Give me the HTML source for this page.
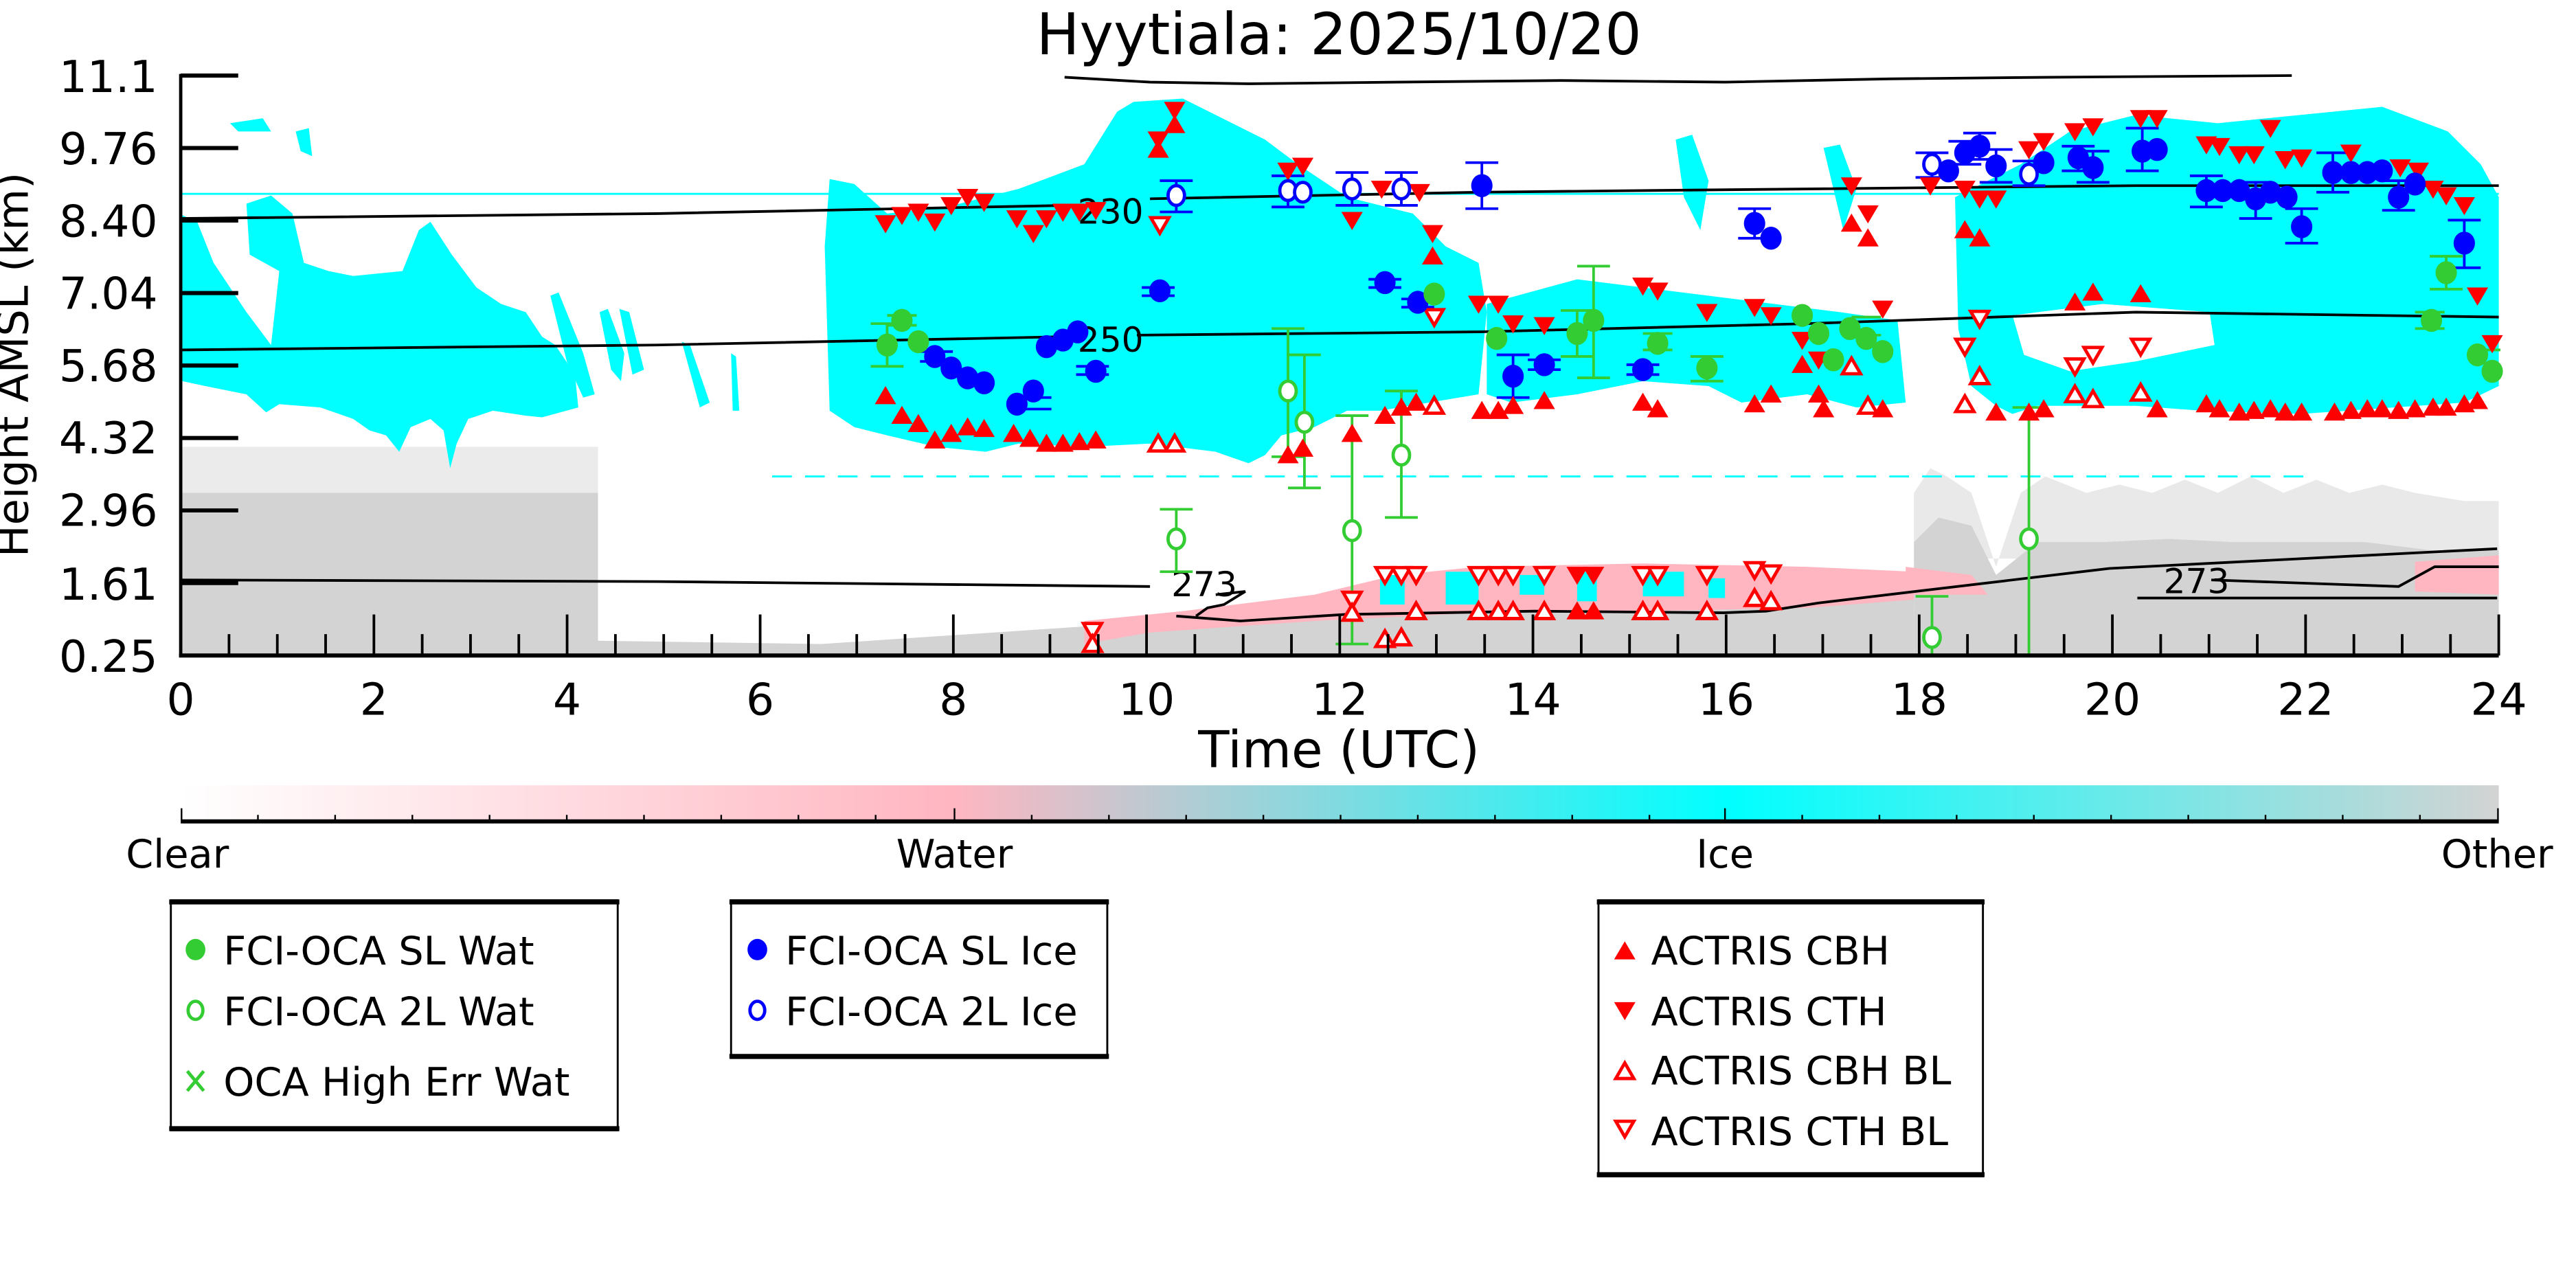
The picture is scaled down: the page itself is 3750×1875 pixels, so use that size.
<!DOCTYPE html>
<html><head><meta charset="utf-8"><style>
html,body{margin:0;padding:0;background:#fff;}
svg{display:block;}
text{font-family:"DejaVu Sans","Liberation Sans",sans-serif;fill:#000;}
</style></head><body>
<svg width="3750" height="1875" viewBox="0 0 1568 784" preserveAspectRatio="none" xmlns="http://www.w3.org/2000/svg">
<defs>
<path id="tu" d="M0,-6 L6.5,5 L-6.5,5Z" fill="#ff0000"/>
<path id="td" d="M0,6 L6.5,-5 L-6.5,-5Z" fill="#ff0000"/>
<path id="tuo" d="M0,-5 L5.5,4.5 L-5.5,4.5Z" fill="#fff" stroke="#ff0000" stroke-width="2"/>
<path id="tdo" d="M0,5 L5.5,-4.5 L-5.5,-4.5Z" fill="#fff" stroke="#ff0000" stroke-width="2"/>
<ellipse id="bf" rx="6.5" ry="7" fill="#0000ff"/>
<ellipse id="bo" rx="5" ry="6" fill="#fff" stroke="#0000ff" stroke-width="2"/>
<ellipse id="gf" rx="6.5" ry="7" fill="#33cc33"/>
<ellipse id="go" rx="5" ry="6" fill="#fff" stroke="#33cc33" stroke-width="2"/>
<linearGradient id="cb" x1="0" x2="1" y1="0" y2="0">
<stop offset="0" stop-color="#ffffff"/><stop offset="0.333" stop-color="#ffb6c1"/><stop offset="0.667" stop-color="#00ffff"/><stop offset="1" stop-color="#d3d3d3"/>
</linearGradient>
</defs>

<!-- gray regions -->
<rect x="110" y="300" width="254" height="99" fill="#d3d3d3"/>
<rect x="110" y="272" width="254" height="28" fill="#d3d3d3" opacity="0.45"/>
<polygon points="364,390 500,392 560,388 620,384 680,380 760,376 840,372 950,368 1060,364 1165,358 1165,399 364,399" fill="#d3d3d3"/>
<polygon points="1165,300 1175,285 1185,290 1200,300 1215,345 1230,300 1245,290 1270,300 1290,295 1310,300 1330,292 1350,300 1370,290 1390,300 1410,292 1430,300 1450,295 1470,300 1500,305 1521,305 1521,340 1165,340" fill="#d3d3d3" opacity="0.5"/>
<polygon points="1165,330 1180,315 1200,320 1215,350 1240,330 1280,330 1320,328 1360,330 1400,330 1440,330 1480,335 1521,335 1521,399 1165,399" fill="#d3d3d3"/>
<!-- pink -->
<polygon points="660,378 720,372 800,362 850,350 900,345 1000,343 1100,345 1165,348 1165,365 1100,370 1000,372 900,373 800,378 700,385 660,392" fill="#ffb6c1"/>
<polygon points="1160,345 1200,350 1210,362 1160,362" fill="#ffb6c1"/>
<polygon points="1470,342 1521,338 1521,362 1470,360" fill="#ffb6c1"/>
<g fill="#00ffff">
<rect x="840" y="350" width="15" height="18"/><rect x="880" y="348" width="20" height="20"/><rect x="925" y="350" width="15" height="12"/><rect x="960" y="348" width="12" height="18"/><rect x="1000" y="348" width="25" height="15"/><rect x="1040" y="352" width="10" height="12"/>
</g>

<!-- cyan clouds -->
<g fill="#00ffff">
<polygon points="111,131 120,135 130,160 150,190 165,210 170,165 152,155 150,124 165,119 178,130 185,160 200,165 215,168 245,165 255,140 262,135 275,155 290,175 305,185 320,190 330,205 338,210 350,228 352,248 330,254 320,253 300,250 285,255 278,270 274,285 270,262 262,255 250,260 243,275 235,265 225,262 215,255 195,248 170,246 162,251 150,240 140,238 125,235 111,232"/>
<polygon points="335,180 340,178 355,215 362,240 355,242 345,220"/>
<polygon points="365,190 370,188 380,215 378,232 372,225"/>
<polygon points="377,188 383,190 392,225 385,228"/>
<polygon points="415,208 420,210 432,245 426,248"/>
<polygon points="445,215 448,217 450,250 446,250"/>
<polygon points="140,75 160,72 165,80 145,80"/><polygon points="180,80 188,78 190,95 183,92"/>
<polygon points="502,150 505,109 520,112 540,130 580,125 620,115 660,100 680,68 690,62 720,60 740,70 770,85 790,100 820,120 860,130 880,150 900,160 905,190 900,240 870,245 840,250 820,250 800,260 780,265 770,277 760,282 740,275 700,270 660,272 620,270 600,275 570,272 540,265 520,260 505,250"/>
<polygon points="905,185 960,170 1000,175 1040,180 1080,185 1120,190 1155,195 1160,245 1130,248 1100,240 1060,245 1040,235 1000,232 960,240 920,245 905,240"/>
<polygon points="1020,85 1030,82 1040,110 1035,140 1025,120"/><polygon points="1110,90 1120,88 1130,115 1122,140"/>
<polygon points="1190,120 1210,110 1230,100 1260,80 1300,70 1350,75 1400,70 1450,65 1490,80 1510,100 1521,120 1521,235 1500,245 1400,252 1340,250 1300,247 1240,247 1225,252 1215,247 1200,235 1192,200"/>
</g>
<polygon points="1225,192 1280,185 1345,190 1348,210 1300,220 1260,226 1232,216" fill="#fff"/>
<line x1="110" y1="118" x2="1521" y2="118" stroke="#00ffff" stroke-width="1.2"/>
<line x1="470" y1="290" x2="1410" y2="290" stroke="#00ffff" stroke-width="1.2" stroke-dasharray="12,8"/>

<!-- temperature contours -->
<g fill="none" stroke="#000" stroke-width="1.6">
<polyline points="648,47 700,50 760,51 850,50 950,49 1050,50 1150,48 1250,47 1395,46"/>
<polyline points="110,133 400,130 650,125"/>
<polyline points="700,121 900,117 1100,115 1300,113 1521,113"/>
<polyline points="110,213 400,210 645,205"/>
<polyline points="692,204 900,202 1100,197 1300,190 1521,193"/>
<polyline points="110,353 400,354 700,357"/>
<polyline points="716,375 755,378 819,374 934,372 1049,373 1075,372 1107,367 1284,346 1520,334"/>
<polyline points="1346,353 1460,357 1482,345 1521,345"/>
<polyline points="1301,364 1520,364"/>
<polyline points="740,362 758,360 745,368 735,370 728,375"/>
</g>
<text x="676" y="136" font-size="21" text-anchor="middle">230</text>
<text x="676" y="214" font-size="21" text-anchor="middle">250</text>
<text x="733" y="363" font-size="21" text-anchor="middle">273</text>
<text x="1337" y="361" font-size="21" text-anchor="middle">273</text>

<!-- error bars -->
<g fill="none" stroke-width="1.6">
<g stroke="#0000ff">
<path d="M716,110V129M706,110h20M706,129h20"/>
<path d="M902,99V127M892,99h20M892,127h20"/>
<path d="M921,216V242M911,216h20M911,242h20"/>
<path d="M1068,127V145M1058,127h20M1058,145h20"/>
<path d="M1176,93V108M1166,93h20M1166,108h20"/>
<path d="M1196,86V100M1186,86h20M1186,100h20"/>
<path d="M1205,81V97M1195,81h20M1195,97h20"/>
<path d="M1215,91V111M1205,91h20M1205,111h20"/>
<path d="M1235,98V113M1225,98h20M1225,113h20"/>
<path d="M1265,89V104M1255,89h20M1255,104h20"/>
<path d="M1274,92V111M1264,92h20M1264,111h20"/>
<path d="M1304,78V104M1294,78h20M1294,104h20"/>
<path d="M1343,107V126M1333,107h20M1333,126h20"/>
<path d="M1373,111V133M1363,111h20M1363,133h20"/>
<path d="M1401,127V148M1391,127h20M1391,148h20"/>
<path d="M1420,93V117M1410,93h20M1410,117h20"/>
<path d="M1460,110V128M1450,110h20M1450,128h20"/>
<path d="M1500,134V163M1490,134h20M1490,163h20"/>
<path d="M784,107V126M774,107h20M774,126h20"/>
<path d="M823,105V125M813,105h20M813,125h20"/>
<path d="M853,105V125M843,105h20M843,125h20"/>
<path d="M560,214h20M560,220h20M620,242h20M620,249h20M695,175h20M695,180h20M655,223h20M655,228h20M833,170h20M833,175h20M853,182h20M853,187h20M930,219h20M930,225h20M990,222h20M990,228h20"/>
</g>
<g stroke="#33cc33">
<path d="M540,197V223M530,197h20M530,223h20"/>
<path d="M960,189V217M950,189h20M950,217h20"/>
<path d="M970,162V230M960,162h20M960,230h20"/>
<path d="M1039,217V232M1029,217h20M1029,232h20"/>
<path d="M1489,156V176M1479,156h20M1479,176h20"/>
<path d="M716,310V348M706,310h20M706,348h20"/>
<path d="M784,200V278M774,200h20M774,278h20"/>
<path d="M794,216V297M784,216h20M784,297h20"/>
<path d="M823,253V392M813,253h20M813,392h20"/>
<path d="M853,238V315M843,238h20M843,315h20"/>
<path d="M1235,248V399M1225,248h20"/>
<path d="M1176,363V399M1166,363h20"/>
<path d="M540,192h18M540,198h18M1000,203h18M1000,213h18M1127,193h18M1127,204h18M1470,190h18M1470,200h18M1508,213h14"/>
</g>
</g>

<!-- markers -->
<g>
<use href="#td" x="539" y="136"/><use href="#td" x="549" y="131"/><use href="#td" x="559" y="129"/><use href="#td" x="569" y="135"/><use href="#td" x="579" y="125"/><use href="#td" x="589" y="120"/><use href="#td" x="599" y="123"/><use href="#td" x="619" y="133"/><use href="#td" x="629" y="142"/><use href="#td" x="637" y="133"/><use href="#td" x="647" y="129"/><use href="#td" x="657" y="129"/><use href="#td" x="667" y="128"/>
<use href="#tu" x="539" y="241"/><use href="#tu" x="549" y="253"/><use href="#tu" x="559" y="258"/><use href="#tu" x="569" y="268"/><use href="#tu" x="579" y="264"/><use href="#tu" x="589" y="260"/><use href="#tu" x="599" y="261"/><use href="#tu" x="617" y="264"/><use href="#tu" x="627" y="267"/><use href="#tu" x="637" y="270"/><use href="#tu" x="647" y="270"/><use href="#tu" x="657" y="269"/><use href="#tu" x="667" y="268"/>
<use href="#td" x="715" y="67"/><use href="#tu" x="715" y="76"/><use href="#td" x="705" y="85"/><use href="#tu" x="705" y="91"/>
<use href="#tdo" x="706" y="137"/><use href="#tuo" x="705" y="270"/><use href="#tuo" x="715" y="270"/>
<use href="#td" x="784" y="104"/><use href="#td" x="793" y="101"/><use href="#td" x="823" y="134"/><use href="#td" x="841" y="115"/><use href="#td" x="864" y="117"/>
<use href="#td" x="872" y="142"/><use href="#tu" x="872" y="156"/><use href="#tdo" x="873" y="193"/>
<use href="#td" x="900" y="185"/><use href="#td" x="912" y="185"/><use href="#td" x="921" y="197"/><use href="#td" x="940" y="198"/>
<use href="#td" x="1000" y="174"/><use href="#td" x="1009" y="177"/><use href="#td" x="1039" y="190"/><use href="#td" x="1068" y="187"/><use href="#td" x="1078" y="192"/><use href="#td" x="1097" y="207"/><use href="#td" x="1107" y="219"/>
<use href="#tu" x="1097" y="222"/><use href="#tu" x="1107" y="240"/>
<use href="#tu" x="902" y="250"/><use href="#tu" x="912" y="250"/><use href="#tu" x="921" y="247"/><use href="#tu" x="940" y="244"/><use href="#tu" x="1000" y="245"/><use href="#tu" x="1009" y="249"/><use href="#tu" x="1068" y="246"/><use href="#tu" x="1078" y="240"/>
<use href="#tu" x="784" y="277"/><use href="#tu" x="793" y="273"/><use href="#tu" x="823" y="264"/><use href="#tu" x="843" y="253"/><use href="#tu" x="853" y="248"/><use href="#tu" x="862" y="245"/><use href="#tuo" x="873" y="247"/>
<use href="#tdo" x="665" y="384"/><use href="#tuo" x="665" y="392"/>
<use href="#tdo" x="823" y="365"/><use href="#tuo" x="823" y="373"/><use href="#tuo" x="843" y="389"/><use href="#tuo" x="853" y="388"/>
<use href="#tdo" x="843" y="350"/><use href="#tdo" x="853" y="350"/><use href="#tdo" x="862" y="350"/><use href="#tdo" x="900" y="350"/><use href="#tdo" x="912" y="350"/><use href="#tdo" x="921" y="350"/><use href="#tdo" x="940" y="350"/><use href="#td" x="960" y="350"/><use href="#td" x="970" y="350"/><use href="#tdo" x="1000" y="350"/><use href="#tdo" x="1009" y="350"/><use href="#tdo" x="1039" y="350"/><use href="#tdo" x="1068" y="347"/><use href="#tdo" x="1078" y="349"/>
<use href="#tuo" x="862" y="372"/><use href="#tuo" x="900" y="372"/><use href="#tuo" x="912" y="372"/><use href="#tuo" x="921" y="372"/><use href="#tuo" x="940" y="372"/><use href="#tu" x="960" y="372"/><use href="#tu" x="970" y="372"/><use href="#tuo" x="1000" y="372"/><use href="#tuo" x="1009" y="372"/><use href="#tuo" x="1039" y="372"/><use href="#tuo" x="1068" y="364"/><use href="#tuo" x="1078" y="366"/>
<use href="#td" x="1127" y="113"/><use href="#td" x="1137" y="130"/><use href="#tu" x="1127" y="136"/><use href="#tu" x="1137" y="145"/>
<use href="#td" x="1175" y="113"/><use href="#td" x="1196" y="115"/><use href="#td" x="1205" y="121"/><use href="#td" x="1215" y="121"/><use href="#td" x="1235" y="91"/><use href="#td" x="1244" y="86"/><use href="#td" x="1263" y="80"/><use href="#td" x="1274" y="77"/><use href="#td" x="1303" y="72"/><use href="#td" x="1313" y="72"/><use href="#td" x="1343" y="88"/><use href="#td" x="1351" y="89"/><use href="#td" x="1363" y="94"/><use href="#td" x="1372" y="94"/><use href="#td" x="1382" y="78"/><use href="#td" x="1391" y="97"/><use href="#td" x="1401" y="96"/><use href="#td" x="1431" y="93"/><use href="#td" x="1461" y="102"/><use href="#td" x="1472" y="104"/><use href="#td" x="1481" y="115"/><use href="#td" x="1489" y="119"/><use href="#td" x="1500" y="125"/><use href="#td" x="1508" y="180"/><use href="#td" x="1517" y="209"/><use href="#td" x="1146" y="188"/>
<use href="#tu" x="1196" y="140"/><use href="#tu" x="1205" y="145"/><use href="#tu" x="1263" y="184"/><use href="#tu" x="1274" y="178"/><use href="#tu" x="1303" y="179"/>
<use href="#tdo" x="1205" y="194"/><use href="#tdo" x="1196" y="211"/><use href="#tdo" x="1263" y="223"/><use href="#tdo" x="1274" y="216"/><use href="#tdo" x="1303" y="211"/>
<use href="#tuo" x="1127" y="223"/><use href="#tuo" x="1205" y="229"/><use href="#tuo" x="1196" y="246"/><use href="#tuo" x="1137" y="247"/><use href="#tuo" x="1263" y="240"/><use href="#tuo" x="1274" y="243"/><use href="#tuo" x="1303" y="239"/>
<use href="#tu" x="1110" y="249"/><use href="#tu" x="1146" y="249"/><use href="#tu" x="1215" y="251"/><use href="#tu" x="1235" y="251"/><use href="#tu" x="1244" y="249"/><use href="#tu" x="1313" y="249"/><use href="#tu" x="1343" y="246"/><use href="#tu" x="1351" y="249"/><use href="#tu" x="1363" y="251"/><use href="#tu" x="1372" y="250"/><use href="#tu" x="1382" y="249"/><use href="#tu" x="1391" y="251"/><use href="#tu" x="1401" y="251"/><use href="#tu" x="1421" y="251"/><use href="#tu" x="1431" y="250"/><use href="#tu" x="1441" y="249"/><use href="#tu" x="1450" y="249"/><use href="#tu" x="1460" y="250"/><use href="#tu" x="1470" y="249"/><use href="#tu" x="1481" y="248"/><use href="#tu" x="1489" y="248"/><use href="#tu" x="1500" y="246"/><use href="#tu" x="1508" y="244"/>
<use href="#bf" x="569" y="217"/><use href="#bf" x="579" y="224"/><use href="#bf" x="589" y="230"/><use href="#bf" x="599" y="233"/><use href="#bf" x="619" y="246"/><use href="#bf" x="629" y="238"/><use href="#bf" x="637" y="211"/><use href="#bf" x="647" y="207"/><use href="#bf" x="656" y="202"/><use href="#bf" x="667" y="226"/><use href="#bf" x="706" y="177"/>
<use href="#bo" x="716" y="119"/><use href="#bo" x="784" y="116"/><use href="#bo" x="793" y="117"/><use href="#bo" x="823" y="115"/><use href="#bo" x="853" y="115"/>
<use href="#bf" x="902" y="113"/><use href="#bf" x="843" y="172"/><use href="#bf" x="863" y="184"/><use href="#bf" x="921" y="229"/><use href="#bf" x="940" y="222"/><use href="#bf" x="1000" y="225"/><use href="#bf" x="1068" y="136"/><use href="#bf" x="1078" y="145"/>
<use href="#bo" x="1176" y="100"/><use href="#bf" x="1186" y="104"/><use href="#bf" x="1196" y="93"/><use href="#bf" x="1205" y="89"/><use href="#bf" x="1215" y="101"/><use href="#bo" x="1235" y="106"/><use href="#bf" x="1244" y="99"/><use href="#bf" x="1265" y="96"/><use href="#bf" x="1274" y="102"/><use href="#bf" x="1304" y="92"/><use href="#bf" x="1313" y="91"/>
<use href="#bf" x="1343" y="116"/><use href="#bf" x="1353" y="116"/><use href="#bf" x="1363" y="116"/><use href="#bf" x="1373" y="121"/><use href="#bf" x="1382" y="117"/><use href="#bf" x="1392" y="120"/><use href="#bf" x="1401" y="138"/><use href="#bf" x="1420" y="105"/><use href="#bf" x="1431" y="105"/><use href="#bf" x="1441" y="105"/><use href="#bf" x="1450" y="104"/><use href="#bf" x="1460" y="120"/><use href="#bf" x="1470" y="112"/><use href="#bf" x="1500" y="148"/>
<use href="#gf" x="540" y="210"/><use href="#gf" x="549" y="195"/><use href="#gf" x="559" y="208"/>
<use href="#gf" x="873" y="179"/><use href="#gf" x="911" y="206"/><use href="#gf" x="960" y="203"/><use href="#gf" x="970" y="195"/><use href="#gf" x="1009" y="209"/><use href="#gf" x="1039" y="224"/>
<use href="#gf" x="1097" y="192"/><use href="#gf" x="1107" y="203"/><use href="#gf" x="1116" y="219"/><use href="#gf" x="1126" y="200"/><use href="#gf" x="1136" y="206"/><use href="#gf" x="1146" y="214"/>
<use href="#gf" x="1489" y="166"/><use href="#gf" x="1480" y="195"/><use href="#gf" x="1508" y="216"/><use href="#gf" x="1517" y="226"/>
<use href="#go" x="716" y="328"/><use href="#go" x="784" y="238"/><use href="#go" x="794" y="257"/><use href="#go" x="823" y="323"/><use href="#go" x="853" y="277"/><use href="#go" x="1235" y="328"/><use href="#go" x="1176" y="388"/>
</g>

<!-- axes -->
<g stroke="#000">
<line x1="110" y1="45" x2="110" y2="400" stroke-width="2"/>
<line x1="109" y1="399" x2="1521" y2="399" stroke-width="2.5"/>
<g stroke-width="2.5">
<line x1="110" y1="46" x2="145" y2="46"/><line x1="110" y1="90.1" x2="145" y2="90.1"/><line x1="110" y1="134.2" x2="145" y2="134.2"/><line x1="110" y1="178.4" x2="145" y2="178.4"/><line x1="110" y1="222.5" x2="145" y2="222.5"/><line x1="110" y1="266.6" x2="145" y2="266.6"/><line x1="110" y1="310.7" x2="145" y2="310.7"/><line x1="110" y1="354.9" x2="145" y2="354.9"/>
</g>
<path stroke-width="1.6" d="M227.6,399v-25M345.2,399v-25M462.7,399v-25M580.3,399v-25M697.9,399v-25M815.5,399v-25M933.1,399v-25M1050.7,399v-25M1168.2,399v-25M1285.8,399v-25M1403.4,399v-25M1521,399v-25
M139.4,399v-13M168.8,399v-13M198.2,399v-13M257,399v-13M286.4,399v-13M315.8,399v-13M374.6,399v-13M404,399v-13M433.3,399v-13M492.1,399v-13M521.5,399v-13M550.9,399v-13M609.7,399v-13M639.1,399v-13M668.5,399v-13M727.3,399v-13M756.7,399v-13M786.1,399v-13M844.9,399v-13M874.3,399v-13M903.7,399v-13M962.5,399v-13M991.9,399v-13M1021.3,399v-13M1080.1,399v-13M1109.5,399v-13M1138.8,399v-13M1197.6,399v-13M1227,399v-13M1256.4,399v-13M1315.2,399v-13M1344.6,399v-13M1374,399v-13M1432.8,399v-13M1462.2,399v-13M1491.6,399v-13"/>
</g>
<g font-size="27" text-anchor="end">
<text x="96" y="56">11.1</text><text x="96" y="100">9.76</text><text x="96" y="144">8.40</text><text x="96" y="188">7.04</text><text x="96" y="232">5.68</text><text x="96" y="276">4.32</text><text x="96" y="320">2.96</text><text x="96" y="365">1.61</text><text x="96" y="409">0.25</text>
</g>
<g font-size="27" text-anchor="middle">
<text x="110" y="435">0</text><text x="227.6" y="435">2</text><text x="345.2" y="435">4</text><text x="462.7" y="435">6</text><text x="580.3" y="435">8</text><text x="697.9" y="435">10</text><text x="815.5" y="435">12</text><text x="933.1" y="435">14</text><text x="1050.7" y="435">16</text><text x="1168.2" y="435">18</text><text x="1285.8" y="435">20</text><text x="1403.4" y="435">22</text><text x="1521" y="435">24</text>
</g>
<text x="815" y="467" font-size="31" text-anchor="middle">Time (UTC)</text>
<text x="815" y="33" font-size="35" text-anchor="middle">Hyytiala: 2025/10/20</text>
<text transform="translate(17,222) rotate(-90)" font-size="26" text-anchor="middle">Height AMSL (km)</text>

<!-- colorbar -->
<rect x="110" y="478" width="1411" height="22" fill="url(#cb)"/>
<line x1="110" y1="500" x2="1521" y2="500" stroke="#000" stroke-width="2.5"/>
<path stroke="#000" stroke-width="1" d="M157,500v-4M204,500v-4M251,500v-4M298,500v-4M345,500v-4M392,500v-4M439,500v-4M486,500v-4M533,500v-4M628,500v-4M675,500v-4M722,500v-4M769,500v-4M816,500v-4M863,500v-4M910,500v-4M957,500v-4M1004,500v-4M1097,500v-4M1144,500v-4M1191,500v-4M1238,500v-4M1285,500v-4M1332,500v-4M1379,500v-4M1426,500v-4M1473,500v-4"/>
<path stroke="#000" stroke-width="1" d="M110.5,500v-8M581,500v-8M1050,500v-8M1520.5,500v-8"/>
<g font-size="24" text-anchor="middle">
<text x="108" y="528">Clear</text><text x="581" y="528">Water</text><text x="1050" y="528">Ice</text><text x="1520" y="528">Other</text>
</g>

<!-- legends -->
<g fill="none" stroke="#000">
<rect x="104" y="548" width="272" height="140" stroke-width="1.2"/>
<line x1="103" y1="549" x2="377" y2="549" stroke-width="3"/><line x1="103" y1="687" x2="377" y2="687" stroke-width="3"/>
<rect x="445" y="548" width="229" height="96" stroke-width="1.2"/>
<line x1="444" y1="549" x2="675" y2="549" stroke-width="3"/><line x1="444" y1="643" x2="675" y2="643" stroke-width="3"/>
<rect x="973" y="548" width="234" height="168" stroke-width="1.2"/>
<line x1="972" y1="549" x2="1208" y2="549" stroke-width="3"/><line x1="972" y1="715" x2="1208" y2="715" stroke-width="3"/>
</g>
<ellipse cx="119" cy="578" rx="6" ry="6.5" fill="#33cc33"/>
<ellipse cx="119" cy="615" rx="4.5" ry="5.5" fill="#fff" stroke="#33cc33" stroke-width="2"/>
<path d="M114,652l10,12M124,652l-10,12" stroke="#33cc33" stroke-width="2"/>
<ellipse cx="461" cy="578" rx="6" ry="6.5" fill="#0000ff"/>
<ellipse cx="461" cy="615" rx="4.5" ry="5.5" fill="#fff" stroke="#0000ff" stroke-width="2"/>
<use href="#tu" x="989" y="579"/><use href="#td" x="989" y="615"/><use href="#tuo" x="989" y="652"/><use href="#tdo" x="989" y="687"/>
<g font-size="24">
<text x="136" y="587">FCI-OCA SL Wat</text><text x="136" y="624">FCI-OCA 2L Wat</text><text x="136" y="667">OCA High Err Wat</text>
<text x="478" y="587">FCI-OCA SL Ice</text><text x="478" y="624">FCI-OCA 2L Ice</text>
<text x="1005" y="587">ACTRIS CBH</text><text x="1005" y="624">ACTRIS CTH</text><text x="1005" y="660">ACTRIS CBH BL</text><text x="1005" y="697">ACTRIS CTH BL</text>
</g>
</svg>
</body></html>
